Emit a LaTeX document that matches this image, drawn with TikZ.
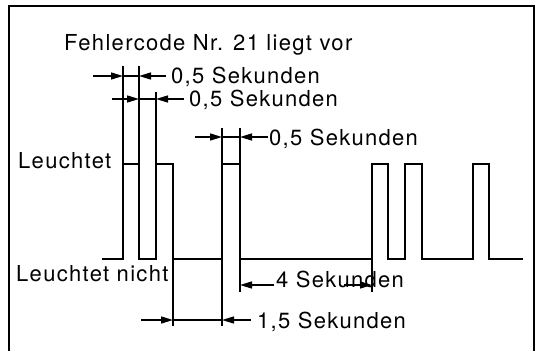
\documentclass[tikz,border=0pt]{standalone}
\usepackage{fontspec}
\setmainfont{TeX Gyre Heros}[LetterSpace=6]
\usetikzlibrary{arrows.meta}
\begin{document}
\begin{tikzpicture}[x=1pt,y=-1pt,
  sig/.style={line width=1.8pt},
  ext/.style={line width=1.2pt},
  dim/.style={line width=1.4pt},
  tipped/.style={dim,-{Triangle[length=12pt,width=7pt]}},
  lbl/.style={anchor=base west,inner sep=0pt,font=\fontsize{22}{22}\selectfont}]
\useasboundingbox (0,0) rectangle (536,351);
% frame
\draw[line width=2pt] (9,351) -- (9,6) -- (534,6) -- (534,351);
% waveform
\draw[sig,line join=miter] (102,259) -- (123,259) -- (123,164) -- (139,164) -- (139,259) -- (156,259)
  -- (156,164) -- (173,164) -- (173,259) -- (222,259) -- (222,164) -- (240,164) -- (240,259)
  -- (372,259) -- (372,164) -- (388,164) -- (388,259) -- (405,259) -- (405,164) -- (422,164)
  -- (422,259) -- (473,259) -- (473,164) -- (489,164) -- (489,259) -- (523,259);
% extension lines
\coordinate (e1t) at (123,66);  \coordinate (e1b) at (123,164);
\coordinate (e2t) at (139,66);  \coordinate (e2b) at (139,164);
\coordinate (e3t) at (156,92);  \coordinate (e3b) at (156,164);
\coordinate (e4t) at (222,128); \coordinate (e4b) at (222,164);
\coordinate (e5t) at (240,128); \coordinate (e5b) at (240,164);
\coordinate (e6t) at (173,259); \coordinate (e6b) at (173,326);
\coordinate (e7t) at (222,259); \coordinate (e7b) at (222,326);
\coordinate (e8t) at (240,259); \coordinate (e8b) at (240,292);
\coordinate (e9t) at (372,259); \coordinate (e9b) at (372,292);
\foreach \i in {1,...,9} \draw[ext] (e\i t) -- (e\i b);
% texts
\node[lbl] (title) at (64,50) {Fehlercode Nr. 21 liegt vor};
\node[lbl] (t1) at (171,83) {0,5 Sekunden};
\node[lbl] (t2) at (189,106) {0,5 Sekunden};
\node[lbl] (t3) at (269,145) {0,5 Sekunden};
\node[lbl] (on) at (18,168) {Leuchtet};
\node[lbl] (off) at (16,281) {Leuchtet nicht};
\node[lbl] (t4) at (276,287) {4 Sekunden};
\node[lbl] (t15) at (257,328) {1,5 Sekunden};
% dimension 1
\draw[tipped] (93,76) -- (123,76);
\draw[dim] (123,76) -- (139,76);
\draw[tipped] (166,76) -- (139,76);
% dimension 2
\draw[tipped] (112,99) -- (139,99);
\draw[dim] (139,99) -- (156,99);
\draw[tipped] (184,99) -- (156,99);
% dimension 3
\draw[tipped] (195,137) -- (222,137);
\draw[dim] (222,137) -- (240,137);
\draw[tipped] (268,137) -- (240,137);
% 4 Sekunden
\draw[tipped] (274,285) -- (240,285);
\draw[tipped] (344,285) -- (372,285);
% 1,5 Sekunden
\draw[tipped] (141,320) -- (173,320);
\draw[dim] (173,320) -- (222,320);
\draw[tipped] (251,320) -- (222,320);
\end{tikzpicture}
\end{document}
